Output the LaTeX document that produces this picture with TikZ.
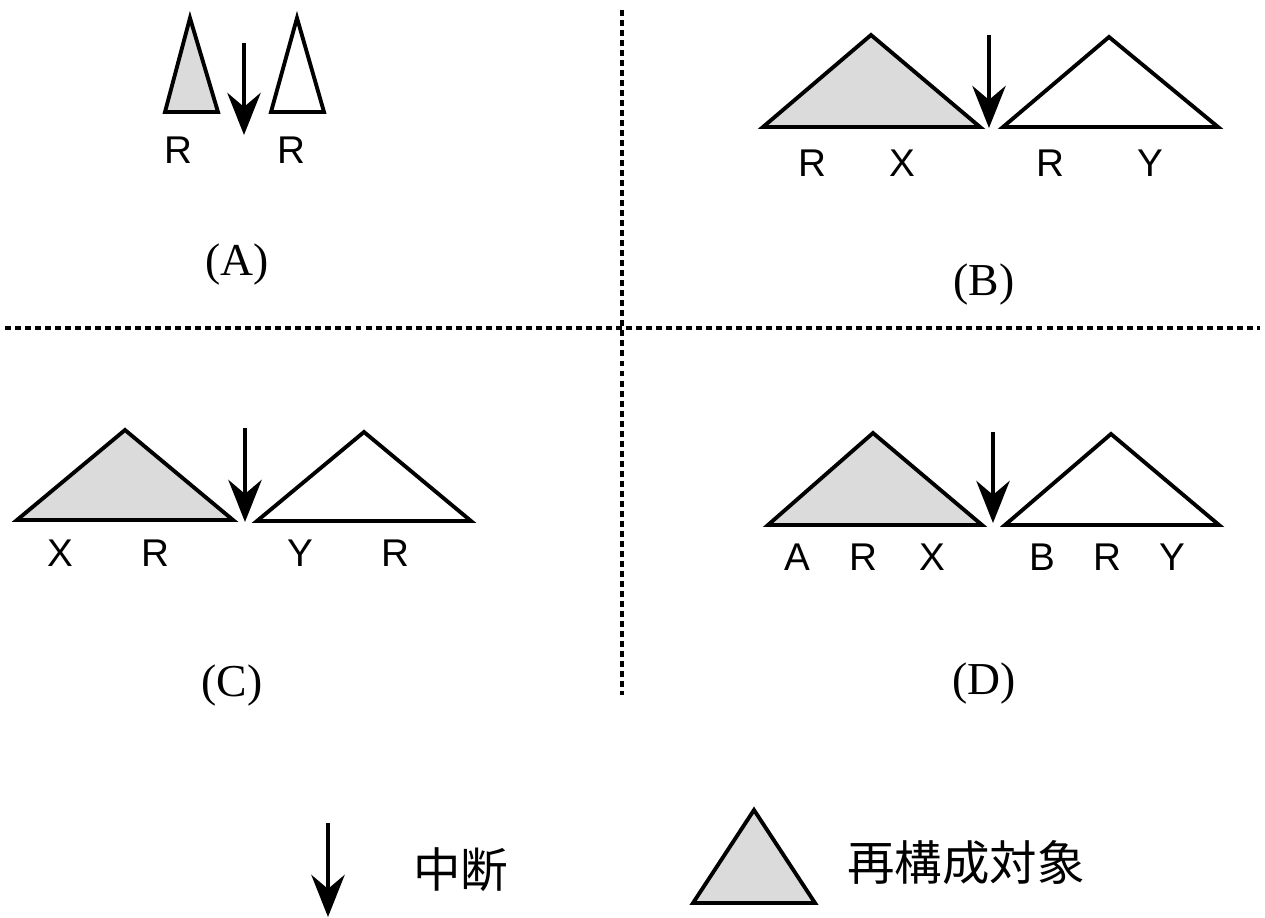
\documentclass[tikz,border=0pt]{standalone}
\usepackage{fontspec}
\setmainfont{Liberation Sans}
\newfontfamily\capfont{Liberation Serif}
\newfontfamily\cjk{Noto Sans CJK JP}
\usetikzlibrary{arrows.meta}

\begin{document}
\begin{tikzpicture}[x=0.02cm, y=-0.02cm,
    tri/.style={draw, line width=2.2pt, line join=miter},
    shaded/.style={tri, fill=gray!28},
    cut/.style={-{Stealth[length=24pt, width=19pt, inset=8pt]}, line width=2.2pt},
    sep/.style={line width=2pt, dash pattern=on 3.4pt off 2.3pt},
    lab/.style={inner sep=0pt, font=\fontsize{22}{26}\selectfont},
    panel/.style={inner sep=0pt, font=\capfont\fontsize{26}{30}\selectfont},
    leg/.style={inner sep=0pt, font=\cjk\fontsize{27}{32}\selectfont}
]
    \useasboundingbox (0,0) rectangle (1265,918);

    % separators
    \coordinate (hl) at (5,328);   \coordinate (hr) at (1260,328);
    \coordinate (vt) at (622,10);  \coordinate (vb) at (622,695);
    \draw[sep] (hl) -- (hr);
    \draw[sep] (vt) -- (vb);

    % (A)
    \draw[shaded] (190,18) -- (218,112) -- (165,112) -- cycle;
    \draw[tri] (297,18) -- (324,112) -- (271,112) -- cycle;
    \coordinate (a1) at (244,43); \coordinate (a2) at (244,135);
    \draw[cut] (a1) -- (a2);
    \node[lab] (aR1) at (178,150) {R};
    \node[lab] (aR2) at (291,150) {R};
    \node[panel] (capA) at (237,265) {(A)};

    % (B)
    \draw[shaded] (871,35) -- (980,127) -- (763,127) -- cycle;
    \draw[tri] (1109,37) -- (1218,127) -- (1003,127) -- cycle;
    \coordinate (b1) at (989,35); \coordinate (b2) at (989,128);
    \draw[cut] (b1) -- (b2);
    \node[lab] (bR1) at (812,163) {R};
    \node[lab] (bX) at (902,163) {X};
    \node[lab] (bR2) at (1050,163) {R};
    \node[lab] (bY) at (1150,163) {Y};
    \node[panel] (capB) at (984,285) {(B)};

    % (C)
    \draw[shaded] (125,430) -- (233,520) -- (17,520) -- cycle;
    \draw[tri] (364,432) -- (471,521) -- (257,521) -- cycle;
    \coordinate (c1) at (245,428); \coordinate (c2) at (245,522);
    \draw[cut] (c1) -- (c2);
    \node[lab] (cX) at (60,553) {X};
    \node[lab] (cR1) at (155,553) {R};
    \node[lab] (cY) at (300,553) {Y};
    \node[lab] (cR2) at (395,553) {R};
    \node[panel] (capC) at (232,686) {(C)};

    % (D)
    \draw[shaded] (873,433) -- (982,525) -- (768,525) -- cycle;
    \draw[tri] (1111,434) -- (1219,525) -- (1005,525) -- cycle;
    \coordinate (d1) at (993,432); \coordinate (d2) at (993,523);
    \draw[cut] (d1) -- (d2);
    \node[lab] (dA) at (797,557) {A};
    \node[lab] (dR1) at (863,557) {R};
    \node[lab] (dX) at (932,557) {X};
    \node[lab] (dB) at (1042,557) {B};
    \node[lab] (dR2) at (1107,557) {R};
    \node[lab] (dY) at (1172,557) {Y};
    \node[panel] (capD) at (984,684) {(D)};

    % legend
    \coordinate (l1) at (328,823); \coordinate (l2) at (328,917);
    \draw[cut] (l1) -- (l2);
    \node[leg, anchor=west] (stop) at (413,870) {中断};
    \draw[shaded] (754,810) -- (815,903) -- (693,903) -- cycle;
    \node[leg, anchor=west] (target) at (847,863) {再構成対象};
\end{tikzpicture}
\end{document}
